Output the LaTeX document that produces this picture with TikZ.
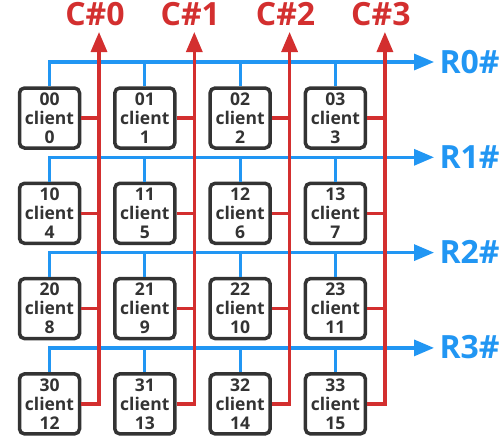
\documentclass[tikz,border=0pt]{standalone}
\usepackage{fontspec}
\setmainfont{Open Sans}
\usetikzlibrary{arrows.meta}
\definecolor{busblue}{HTML}{2196F3}
\definecolor{busred}{HTML}{D32F2F}
\definecolor{boxgrey}{HTML}{333333}
\tikzset{
	client/.style={draw=boxgrey,line width=3.5pt,rounded corners=5pt,minimum width=60pt,minimum height=60pt,inner sep=0pt,align=center,text=boxgrey,font=\fontsize{17.5}{19}\selectfont\bfseries},
	rowbus/.style={draw=busblue,line width=3.2pt},
	colbus/.style={draw=busred,line width=3.2pt},
	bustip/.style={-{Triangle[length=20pt,width=16pt]}},
	buslabel/.style={font=\fontsize{32}{34}\selectfont\bfseries},
}
\begin{document}
\begin{tikzpicture}[x=1pt,y=-1pt]
	\useasboundingbox (0,0) rectangle (500,439);
	
	%Clients
	\foreach \r in {0,...,3}{
		\foreach \c in {0,...,3}{
			\pgfmathtruncatemacro{\n}{4*\r+\c}
			\node[client] at ({49.5+95.3*\c},{118+95.3*\r}) (b\r\c) {\r\c\\client\\\n};
		}
	}
	
	%Bus ends
	\foreach \i in {0,...,3}{
		\coordinate (rt\i) at (434,{62+95.3*\i});
		\coordinate (ct\i) at ({99+95.3*\i},32);
	}
	
	%Row buses
	\foreach \r in {0,...,3}{
		\draw[rowbus,bustip] (b\r0.north) |- (rt\r);
		\foreach \c in {1,2,3}
			\draw[rowbus] (b\r\c.north) -- (b\r\c.north |- rt\r);
		\node[buslabel,text=busblue,anchor=base west] at (436,{73+95.3*\r}) (rl\r) {R\r\#};
	}
	
	%Column buses
	\foreach \c in {0,...,3}{
		\draw[colbus,bustip] (b3\c.east) -| (ct\c);
		\foreach \r in {0,1,2}
			\draw[colbus] (b\r\c.east) -- (b\r\c.east -| ct\c);
		\node[buslabel,text=busred,anchor=base] at ({95+95.3*\c},25) (cl\c) {C\#\c};
	}
	
\end{tikzpicture}
\end{document}
